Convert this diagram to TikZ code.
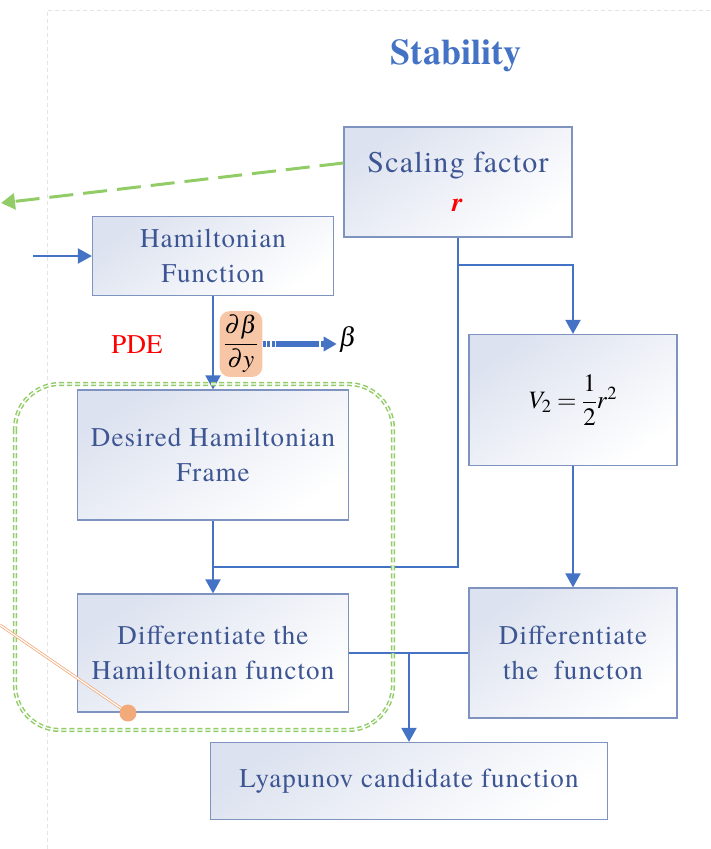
\documentclass[tikz,border=0pt]{standalone}
\usepackage{amsmath}
\usepackage{mathptmx}
\usepackage[no-math]{fontspec}
\setmainfont{texgyretermes}[Extension=.otf, UprightFont=*-regular, BoldFont=*-bold, ItalicFont=*-italic, BoldItalicFont=*-bolditalic]
\usetikzlibrary{arrows.meta,positioning,calc}
\definecolor{lineblue}{HTML}{4472C4}
\definecolor{boxedge}{HTML}{7E93C0}
\definecolor{boxshade}{HTML}{DCE2EF}
\definecolor{textblue}{HTML}{3D5592}
\definecolor{dashgreen}{HTML}{92CC66}
\definecolor{glow}{HTML}{F7C6A6}
\definecolor{dotorange}{HTML}{F2AA7A}
\definecolor{framegrey}{HTML}{E4E4E4}
\tikzset{
  blockbox/.style={draw=boxedge, line width=1.2pt, top color=boxshade, bottom color=white,
    shading angle=35, text=textblue, align=center, inner sep=0pt,
    font=\fontsize{27}{35}\selectfont\addfontfeatures{LetterSpace=4}},
  flowline/.style={draw=lineblue, line width=2pt},
  flowarrow/.style={flowline, -{Triangle[length=14pt,width=15pt]}},
}

\begin{document}
\begin{tikzpicture}[x=1pt,y=-1pt]
    \useasboundingbox (0,0) rectangle (710,849);
    \draw[framegrey, line width=1pt, dash pattern=on 4pt off 3pt] (47,849) -- (47,10) -- (710,10);
    \node[text=lineblue, font=\fontsize{36}{40}\selectfont\bfseries] (title) at (456,56) {Stability};
    % boxes
    \node[blockbox, minimum width=228pt, minimum height=110pt] (scale) at (458,182) {\fontsize{30}{36}\selectfont Scaling factor\\[4pt] \textcolor{red}{\textbf{\textit{r}}}};
    \node[blockbox, minimum width=241pt, minimum height=79pt] (ham) at (213,256) {Hamiltonian\\Function};
    \node[blockbox, minimum width=208pt, minimum height=131pt] (vtwo) at (573,400) {\fontsize{25}{28}\selectfont\color{black} $V_2=\dfrac{1}{2}r^2$};
    \node[blockbox, minimum width=271pt, minimum height=130pt] (desired) at (213,455) {Desired Hamiltonian\\Frame};
    \node[blockbox, minimum width=271pt, minimum height=118pt] (diffham) at (213,653) {Differentiate the\\Hamiltonian functon};
    \node[blockbox, minimum width=208pt, minimum height=130pt] (difffn) at (573,653) {Differentiate\\the\ \ functon};
    \node[blockbox, minimum width=397pt, minimum height=77pt] (lyap) at (409,781) {Lyapunov candidate function};
    % labels
    \node[text=red, font=\fontsize{27}{30}\selectfont] (pde) at (137,345) {PDE};
    \node[fill=glow, rounded corners=10pt, inner sep=4pt, font=\fontsize{25}{28}\selectfont] (dbeta) at (241,344) {$\dfrac{\partial\beta}{\partial y}$};
    \node[font=\fontsize{27}{28}\selectfont, inner sep=2pt] (betaout) at (348,339) {$\beta$};
    % free ends
    \coordinate (inputstart) at (33,256);
    \coordinate (greenend) at (1,203);
    \coordinate (orangestart) at (0,625);
    % connectors
    \draw[flowarrow] (inputstart) -- (ham.west);
    \draw[flowarrow] (ham.south) -- (desired.north);
    \draw[flowarrow] (desired.south) -- (diffham.north);
    \draw[flowline] (scale.south) |- (desired.south |- 0,567);
    \draw[flowarrow] (scale.south |- 0,265) -| (vtwo.north);
    \draw[flowarrow] (vtwo.south) -- (difffn.north);
    \draw[flowline] (diffham.east) -- (difffn.west);
    \draw[flowarrow] (diffham.east -| lyap.north) -- (lyap.north);
    \draw[lineblue, line width=5.5pt, dash pattern=on 3pt off 1.5pt on 3pt off 1.5pt on 3pt off 1.5pt on 40pt off 0pt, -{Triangle[length=13pt,width=14pt]}] (dbeta.east) -- (dbeta.east -| betaout.west);
    \draw[dashgreen, line width=3pt, dash pattern=on 24pt off 10pt, -{Triangle[length=14pt,width=16pt]}] (scale.west |- 0,163) -- (greenend);
    % grouping frame
    \draw[dashgreen, line width=1.5pt, double=white, double distance=1.2pt, dash pattern=on 5pt off 3pt, rounded corners=45pt] (15,384) rectangle (393,730);
    % pointer
    \draw[dotorange, line width=0.8pt, double=white, double distance=1.2pt] (orangestart) -- (128,713);
    \fill[dotorange] (128,713) circle (8.5pt);
\end{tikzpicture}
\end{document}
